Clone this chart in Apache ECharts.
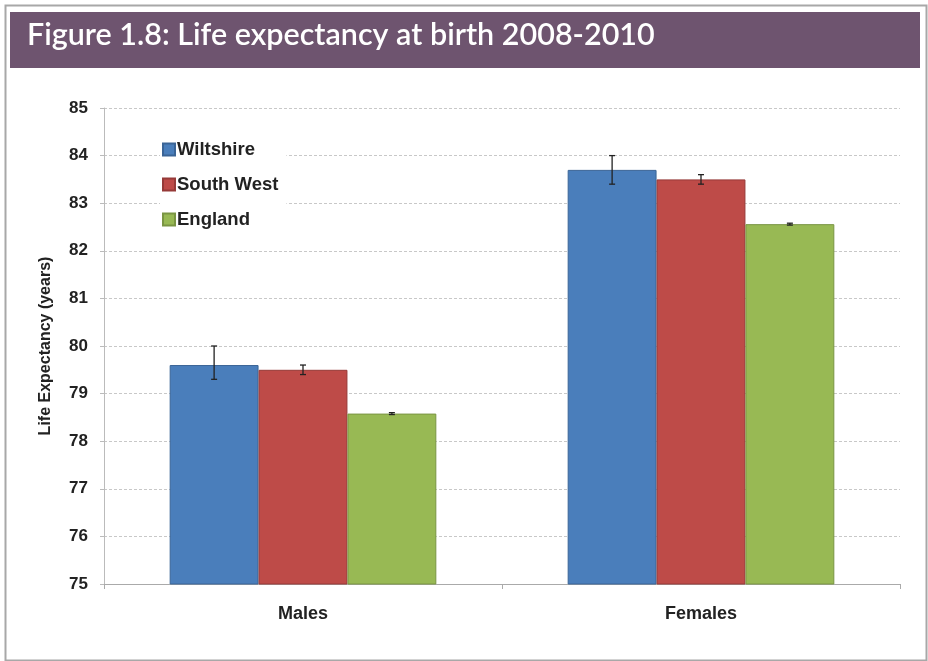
<!DOCTYPE html>
<html><head><meta charset="utf-8">
<script src="https://cdn.jsdelivr.net/npm/echarts@6/dist/echarts.min.js"></script>
<style>html,body{margin:0;padding:0;background:#fff}#c{width:928px;height:661px}</style>
</head><body><div id="c"></div>
<script>
const categories = ['Males', 'Females'];
const seriesNames = ['Wiltshire', 'South West', 'England'];
const wiltshire = [79.6, 83.7];
const southWest = [79.5, 83.5];
const england = [78.58, 82.56];
const wiltshireLow = [79.3, 83.4];
const wiltshireHigh = [80.0, 84.0];
const southWestLow = [79.4, 83.4];
const southWestHigh = [79.6, 83.6];
const englandLow = [78.56, 82.54];
const englandHigh = [78.6, 82.58];
const yTicks = [75, 76, 77, 78, 79, 80, 81, 82, 83, 84, 85];

const colors = ['#4A7EBB', '#BE4B48', '#98B954'];
const borders = ['#3a6496', '#963a38', '#7a9543'];
const values = [wiltshire, southWest, england];
const lows = [wiltshireLow, southWestLow, englandLow];
const highs = [wiltshireHigh, southWestHigh, englandHigh];
const catGap = 0.33;

const chart = echarts.init(document.getElementById('c'));
const series = [];
values.forEach((v, i) => {
  series.push({
    name: seriesNames[i], type: 'bar', data: v, barGap: '0%', barCategoryGap: (catGap*100)+'%',
    itemStyle: {color: colors[i], borderColor: borders[i], borderWidth: 1}
  });
});
values.forEach((v, i) => {
  series.push({
    type: 'custom', silent: true, z: 10,
    data: categories.map((c, k) => [k, lows[i][k], highs[i][k]]),
    renderItem: function (params, api) {
      const band = api.size([1, 0])[0];
      const bw = band * (1 - catGap) / 3;
      const cx = api.coord([api.value(0), api.value(1)])[0] + (i - 1) * bw;
      const yl = api.coord([api.value(0), api.value(1)])[1];
      const yh = api.coord([api.value(0), api.value(2)])[1];
      const st = {stroke: '#222', lineWidth: 1.3};
      return {type: 'group', children: [
        {type: 'line', shape: {x1: cx, y1: yl, x2: cx, y2: yh}, style: st},
        {type: 'line', shape: {x1: cx - 3, y1: yl, x2: cx + 3, y2: yl}, style: st},
        {type: 'line', shape: {x1: cx - 3, y1: yh, x2: cx + 3, y2: yh}, style: st}
      ]};
    }
  });
});

chart.setOption({
  animation: false,
  graphic: [
    {type: 'rect', left: 3, top: 3, shape: {width: 921, height: 655}, style: {fill: 'none', stroke: '#a8a8a8', lineWidth: 2}, z: -1},
    {type: 'rect', left: 10, top: 12, shape: {width: 910, height: 56}, style: {fill: '#6E546F'}, z: 0},
    {type: 'text', left: 27, top: 20, style: {text: 'Figure 1.8: Life expectancy at birth 2008-2010', fill: '#fff', font: '600 30.5px Lato'}, z: 1}
  ],
  legend: {
    orient: 'vertical', left: 160, top: 136, itemGap: 16, itemWidth: 12, itemHeight: 12,
    data: seriesNames, icon: 'rect', backgroundColor: '#fff', padding: [4, 8, 4, 2],
    textStyle: {fontFamily: 'Liberation Sans', fontWeight: 'bold', fontSize: 18.5, color: '#222', padding: [0, 0, 0, -3]}
  },
  grid: {left: 104, right: 28, top: 108, bottom: 77},
  xAxis: {
    type: 'category', data: categories,
    axisLine: {lineStyle: {color: '#aaa'}},
    axisTick: {show: true, length: 5, lineStyle: {color: '#aaa'}},
    axisLabel: {fontFamily: 'Liberation Sans', fontWeight: 'bold', fontSize: 18, color: '#222', margin: 21}
  },
  yAxis: {
    type: 'value', min: 75, max: 85, interval: 1,
    name: 'Life Expectancy (years)', nameLocation: 'middle', nameGap: 50, nameRotate: 90,
    nameTextStyle: {fontFamily: 'Liberation Sans', fontWeight: 'bold', fontSize: 16, color: '#222'},
    axisLine: {show: true, lineStyle: {color: '#bbb'}},
    axisTick: {show: true, length: 4, lineStyle: {color: '#bbb'}},
    axisLabel: {fontFamily: 'Liberation Sans', fontWeight: 'bold', fontSize: 17, color: '#222', margin: 16,
      formatter: v => yTicks.includes(v) ? String(v) : ''},
    splitLine: {lineStyle: {color: '#c8c8c8', type: [3, 2]}}
  },
  series: series
});
</script></body></html>
